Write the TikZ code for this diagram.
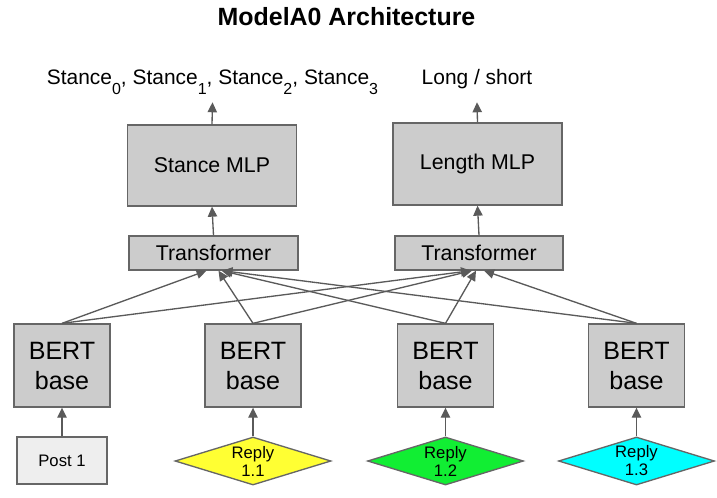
\documentclass[tikz,border=0pt]{standalone}
\usepackage{fontspec}
\setmainfont{Liberation Sans}
\usetikzlibrary{arrows.meta,shapes.geometric}

\definecolor{boxfill}{HTML}{CCCCCC}
\definecolor{boxline}{HTML}{666666}
\definecolor{linkgray}{HTML}{5A5A5A}
\definecolor{postfill}{HTML}{EEEEEE}
\definecolor{replyyellow}{HTML}{FFFF33}
\definecolor{replygreen}{HTML}{11EE33}
\definecolor{replycyan}{HTML}{00FFFF}

% lowered subscript index for the stance outputs
\newcommand{\stidx}[1]{\raisebox{-7.5pt}{\fontsize{12}{12}\selectfont #1}}

\tikzset{
  module/.style={draw=boxline, fill=boxfill, line width=1pt, inner sep=0pt,
    font=\fontsize{16}{19}\selectfont},
  bertbox/.style={module, minimum width=72pt, minimum height=62.25pt,
    align=center, font=\fontsize{18.8}{22.5}\selectfont},
  postbox/.style={draw=boxline, fill=postfill, line width=1pt, inner sep=0pt,
    minimum width=67.5pt, minimum height=35.25pt,
    font=\fontsize{12.5}{13.5}\selectfont},
  replybox/.style={diamond, draw=boxline, line width=1pt, inner sep=0pt,
    minimum width=117pt, minimum height=36pt, aspect=3.25, align=center,
    font=\fontsize{12.5}{13.5}\selectfont},
  outlabel/.style={inner sep=0pt, text depth=0pt, anchor=base,
    font=\fontsize{15.7}{18}\selectfont},
  heading/.style={inner sep=0pt, font=\fontsize{18.7}{22}\selectfont\bfseries},
  link/.style={draw=linkgray, line width=1pt,
    -{Triangle[length=7.5pt,width=7pt]}}
}

\begin{document}
\begin{tikzpicture}[x=0.75pt,y=-0.75pt]
  \useasboundingbox (0,0) rectangle (717,497);

  \node[heading] (title) at (346.5,17) {ModelA0 Architecture};

  % output labels
  \node[outlabel] (slabel) at (212.5,84)
    {Stance\stidx{0}, Stance\stidx{1}, Stance\stidx{2}, Stance\stidx{3}};
  \node[outlabel] (llabel) at (477,84) {Long / short};

  % heads
  \node[module, minimum width=126.75pt, minimum height=60.75pt] (smlp) at (212,165.5) {Stance MLP};
  \node[module, minimum width=126.75pt, minimum height=61.5pt] (lmlp) at (477.5,164) {Length MLP};

  % transformers
  \node[module, minimum width=126.75pt, minimum height=25.5pt] (tl) at (213.5,253) {Transformer};
  \node[module, minimum width=126pt, minimum height=25.5pt] (tr) at (479,253) {Transformer};

  % encoders
  \node[bertbox] (b1) at (62,365.5) {BERT\\base};
  \node[bertbox] (b2) at (253,365.5) {BERT\\base};
  \node[bertbox] (b3) at (445.5,365.5) {BERT\\base};
  \node[bertbox] (b4) at (636.5,365.5) {BERT\\base};

  % inputs
  \node[postbox] (post) at (62,460.5) {Post 1};
  \node[replybox, fill=replyyellow] (r1) at (253,461) {Reply\\1.1};
  \node[replybox, fill=replygreen] (r2) at (445.5,461) {Reply\\1.2};
  \node[replybox, fill=replycyan] (r3) at (636.5,461) {Reply\\1.3};

  % inputs into encoders
  \draw[link] (post) -- (b1);
  \draw[link] (r1) -- (b2);
  \draw[link] (r2) -- (b3);
  \draw[link] (r3) -- (b4);

  % encoders into both transformers
  \draw[link] (b1.north) -- ([xshift=-5.25pt]tl.south);
  \draw[link] (b2.north) -- ([xshift=3.75pt]tl.south);
  \draw[link] (b3.north) -- ([xshift=6pt]tl.south);
  \draw[link] (b4.north) -- ([xshift=6.75pt]tl.south);
  \draw[link] (b1.north) -- ([xshift=-6pt]tr.south);
  \draw[link] (b2.north) -- ([xshift=-5.25pt]tr.south);
  \draw[link] (b3.north) -- ([xshift=-2.25pt]tr.south);
  \draw[link] (b4.north) -- ([xshift=3.75pt]tr.south);

  % transformers into heads, heads into outputs
  \draw[link] (tl.north) -- (smlp.south);
  \draw[link] (tr.north) -- (lmlp.south);
  \draw[link] (smlp.north) -- ([yshift=-13.5pt]slabel.south);
  \draw[link] (lmlp.north) -- ([yshift=-13.5pt]llabel.south);
\end{tikzpicture}
\end{document}
